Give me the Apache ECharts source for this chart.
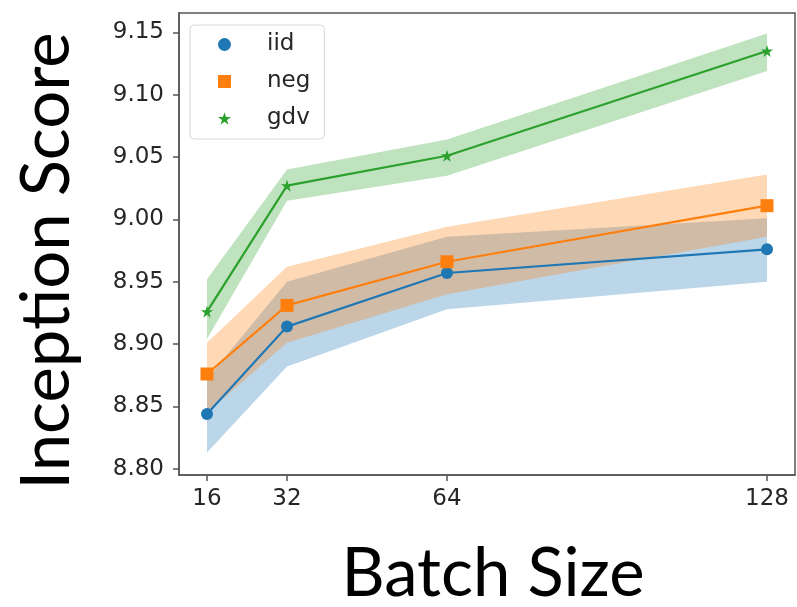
<!DOCTYPE html>
<html>
<head>
    <meta charset="UTF-8">
    <title>Inception Score vs Batch Size</title>
    <script src="https://cdn.jsdelivr.net/npm/echarts/dist/echarts.min.js"></script>
    <style>
        body { margin: 0; background: #fff; }
        #main { width: 797px; height: 607px; }
    </style>
</head>
<body>
    <div id="main"></div>
    <script>
        // data
        var batchSizes = [16, 32, 64, 128];
        var yTicks = [8.80, 8.85, 8.90, 8.95, 9.00, 9.05, 9.10, 9.15];

        var iidMean = [8.844, 8.914, 8.957, 8.976];
        var iidLow  = [8.813, 8.882, 8.928, 8.950];
        var iidHigh = [8.872, 8.950, 8.986, 9.001];

        var negMean = [8.876, 8.931, 8.966, 9.011];
        var negLow  = [8.845, 8.901, 8.940, 8.986];
        var negHigh = [8.901, 8.962, 8.994, 9.036];

        var gdvMean = [8.926, 9.027, 9.051, 9.135];
        var gdvLow  = [8.904, 9.015, 9.035, 9.119];
        var gdvHigh = [8.952, 9.040, 9.064, 9.149];

        var starPath = 'path://M0 -1 L0.225 -0.309 L0.951 -0.309 L0.363 0.118 L0.588 0.809 L0 0.382 L-0.588 0.809 L-0.363 0.118 L-0.951 -0.309 L-0.225 -0.309 Z';

        function pairs(ys) {
            return batchSizes.map(function (x, i) { return [x, ys[i]]; });
        }

        function band(low, high, fill) {
            return {
                type: 'custom',
                silent: true,
                z: 1,
                data: [[batchSizes[0], low[0]]],
                renderItem: function (params, api) {
                    var pts = [];
                    for (var i = 0; i < batchSizes.length; i++) pts.push(api.coord([batchSizes[i], high[i]]));
                    for (var j = batchSizes.length - 1; j >= 0; j--) pts.push(api.coord([batchSizes[j], low[j]]));
                    return { type: 'polygon', shape: { points: pts }, style: { fill: fill } };
                }
            };
        }

        function line(name, ys, color, symbol, size) {
            return {
                name: name,
                type: 'line',
                z: 3,
                data: pairs(ys),
                symbol: symbol,
                symbolSize: size,
                color: color,
                lineStyle: { width: 2.2, color: color },
                itemStyle: { color: color }
            };
        }

        var chart = echarts.init(document.getElementById('main'));
        var tickColor = '#555';
        var labelFont = { color: '#262626', fontSize: 23, fontFamily: 'DejaVu Sans' };

        chart.setOption({
            animation: false,
            grid: {
                left: 179, top: 13, right: 2, bottom: 132,
                show: true, borderColor: tickColor, borderWidth: 1.5
            },
            legend: {
                left: 190, top: 25,
                orient: 'vertical',
                padding: [8, 14, 9, 28],
                itemWidth: 13, itemHeight: 13,
                itemGap: 14,
                borderColor: '#d6d6d6', borderWidth: 1, borderRadius: 4,
                backgroundColor: 'rgba(255,255,255,0.8)',
                textStyle: { color: '#262626', fontSize: 23, fontFamily: 'DejaVu Sans', padding: [0, 0, 0, 31] },
                data: [
                    { name: 'iid', icon: 'circle' },
                    { name: 'neg', icon: 'rect' },
                    { name: 'gdv', icon: starPath }
                ]
            },
            xAxis: {
                type: 'value', min: 10.4, max: 133.6,
                splitLine: { show: false },
                axisLine: { show: true, lineStyle: { color: tickColor, width: 1.5 } },
                axisTick: { show: true, length: 6, customValues: batchSizes, lineStyle: { color: tickColor, width: 1.5 } },
                axisLabel: Object.assign({ margin: 13, customValues: batchSizes }, labelFont)
            },
            yAxis: {
                type: 'value', min: 8.795, max: 9.1655,
                splitLine: { show: false },
                axisLine: { show: true, lineStyle: { color: tickColor, width: 1.5 } },
                axisTick: { show: true, length: 6, customValues: yTicks, lineStyle: { color: tickColor, width: 1.5 } },
                axisLabel: Object.assign({
                    margin: 15, customValues: yTicks,
                    formatter: function (v) { return v.toFixed(2); }
                }, labelFont)
            },
            graphic: [
                {
                    type: 'text', x: 47, y: 261, rotation: Math.PI / 2,
                    style: { text: 'Inception Score', font: '67px Lato', fill: '#000', textAlign: 'center', textVerticalAlign: 'middle' }
                },
                {
                    type: 'text', x: 493, y: 574,
                    style: { text: 'Batch Size', font: '67px Lato', fill: '#000', textAlign: 'center', textVerticalAlign: 'middle' }
                }
            ],
            series: [
                band(iidLow, iidHigh, 'rgba(31,119,180,0.3)'),
                band(negLow, negHigh, 'rgba(255,127,14,0.3)'),
                band(gdvLow, gdvHigh, 'rgba(44,160,44,0.3)'),
                line('iid', iidMean, '#1f77b4', 'circle', 12),
                line('neg', negMean, '#ff7f0e', 'rect', 13),
                line('gdv', gdvMean, '#2ca02c', starPath, 12)
            ]
        });
    </script>
</body>
</html>
